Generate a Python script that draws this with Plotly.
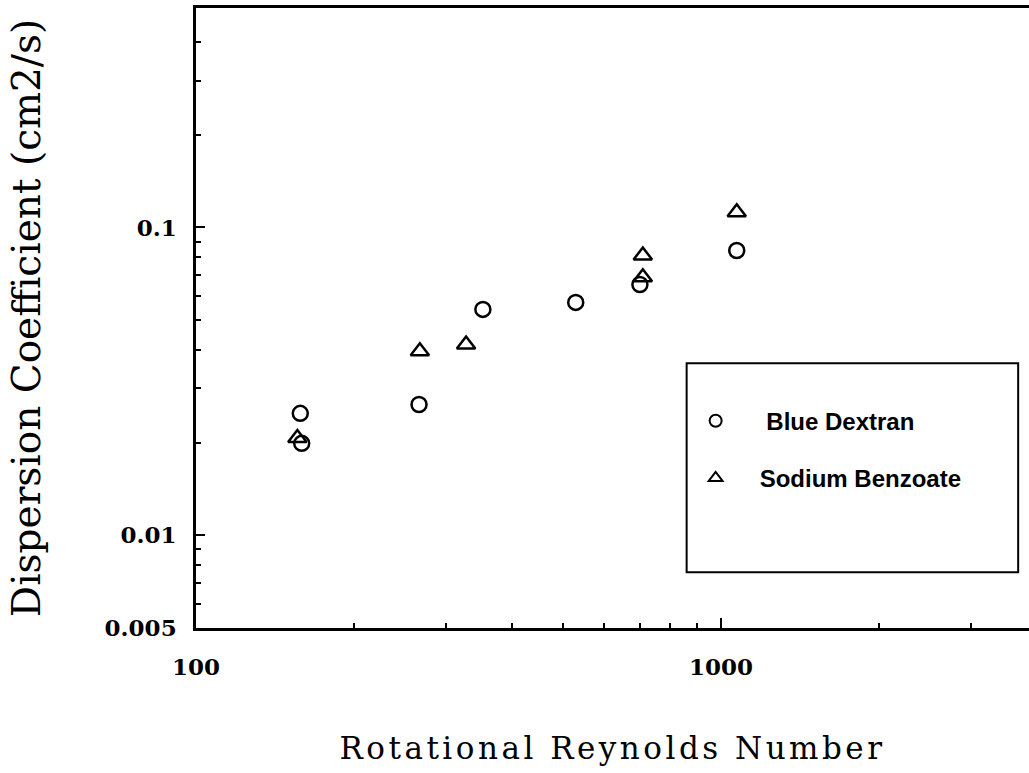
import plotly.graph_objects as go

# Rotational Reynolds number vs dispersion coefficient (cm2/s)
re_dextran = [158, 159, 266, 352, 529, 701, 1072]
d_dextran = [0.0249, 0.0199, 0.0266, 0.0542, 0.0571, 0.0653, 0.0842]

re_benzoate = [156, 267, 327, 710, 710, 1072]
d_benzoate = [0.0207, 0.0396, 0.0417, 0.0811, 0.0689, 0.112]

x_major = [100, 1000]
x_major_text = ["100", "1000"]
x_minor = [200, 300, 400, 500, 600, 700, 800, 900, 2000, 3000]

y_major = [0.005, 0.01, 0.1]
y_major_text = ["0.005", "0.01", "0.1"]
y_minor = [0.006, 0.007, 0.008, 0.009, 0.02, 0.03, 0.04, 0.05, 0.06,
           0.07, 0.08, 0.09, 0.2, 0.3, 0.4]

fig = go.Figure()
fig.add_trace(go.Scatter(
    x=re_dextran, y=d_dextran, mode="markers", name="\u00a0Blue Dextran",
    legendgroup="a",
    marker=dict(symbol="circle-open", size=15, color="black",
                line=dict(width=2.5, color="black")),
))
fig.add_trace(go.Scatter(
    x=re_benzoate, y=d_benzoate, mode="markers", name="Sodium Benzoate",
    legendgroup="b",
    marker=dict(symbol="triangle-up-open", size=16, color="black",
                line=dict(width=2.5, color="black")),
))

tick_font = dict(family="DejaVu Serif", size=23, color="black", weight="bold")

fig.update_layout(
    width=1029, height=773,
    margin=dict(l=196, r=0, t=8, b=145),
    paper_bgcolor="white", plot_bgcolor="white",
    showlegend=True,
    legend=dict(
        x=0.571, y=0.370, xanchor="left", yanchor="top",
        bgcolor="rgba(0,0,0,0)", borderwidth=0,
        font=dict(family="Liberation Sans", size=24, color="black", weight="bold"),
        traceorder="grouped", tracegroupgap=23, itemsizing="constant",
        itemwidth=78,
    ),
    xaxis=dict(
        type="log", range=[2, 3.587],
        showgrid=False, zeroline=False,
        showline=True, linecolor="black", linewidth=2.5, mirror=True,
        ticks="inside", ticklen=10, tickwidth=2, tickcolor="black",
        tickvals=x_major, ticktext=x_major_text, tickfont=tick_font,
        ticklabelstandoff=17,
        minor=dict(tickvals=x_minor, ticks="inside", ticklen=5, tickwidth=2,
                   tickcolor="black", showgrid=False),
        title=dict(text="Rotational Reynolds Number", standoff=58,
                   font=dict(family="DejaVu Serif", size=31, color="black")),
    ),
    yaxis=dict(
        type="log", range=[-2.301, -0.287],
        showgrid=False, zeroline=False,
        showline=True, linecolor="black", linewidth=2.5, mirror=False,
        ticks="inside", ticklen=9, tickwidth=2, tickcolor="black",
        tickvals=y_major, ticktext=y_major_text, tickfont=tick_font,
        ticklabelstandoff=12,
        minor=dict(tickvals=y_minor, ticks="inside", ticklen=5, tickwidth=2,
                   tickcolor="black", showgrid=False),
        title=dict(text="Dispersion Coefficient (cm2/s)", standoff=52,
                   font=dict(family="DejaVu Serif", size=39, color="black")),
    ),
    shapes=[dict(type="rect", xref="paper", yref="paper",
                 x0=0.589, x1=0.987, y0=0.090, y1=0.427,
                 line=dict(color="black", width=2), fillcolor="rgba(0,0,0,0)")],
)

# widen the letter spacing of the x-axis title text
spacing_js = """
var gd = document.getElementById('{plot_id}');
gd.querySelectorAll('.xtitle').forEach(function (t) {
    t.style.letterSpacing = '3.5px';
});
"""

fig.write_html("out.html", post_script=spacing_js)
